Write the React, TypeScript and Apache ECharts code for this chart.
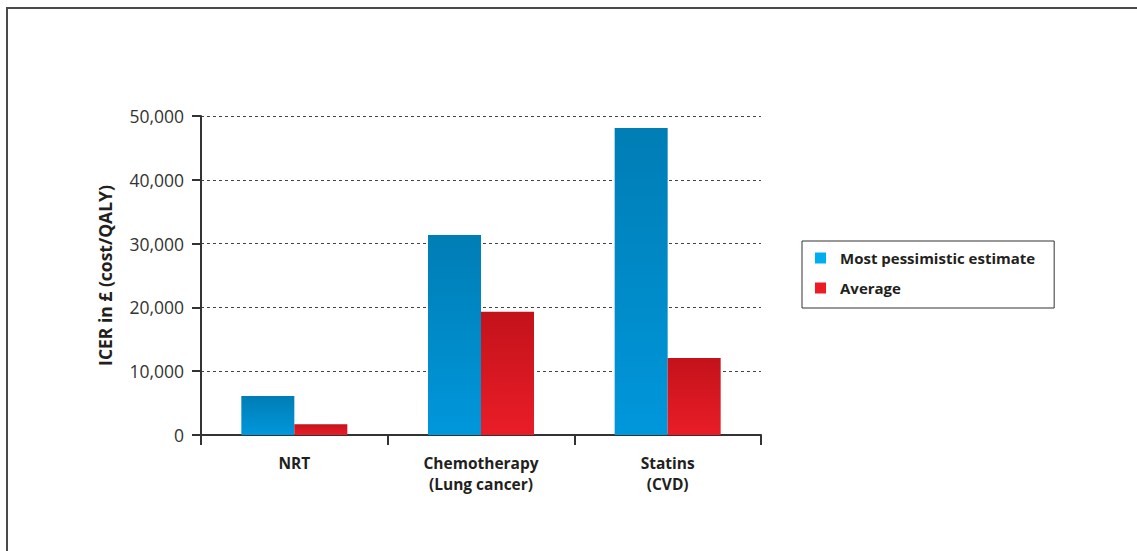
import React, { useEffect, useRef } from "react";
import * as echarts from "echarts";

const categories = ["NRT", "Chemotherapy\n(Lung cancer)", "Statins\n(CVD)"];
const pessimistic = [6100, 31350, 48100];
const average = [1700, 19300, 12050];
const seriesNames = ["Most pessimistic estimate", "Average"];
const yTicks = [0, 10000, 20000, 30000, 40000, 50000];

const FONT = "'Open Sans', 'Noto Sans', sans-serif";

export default function App() {
  const ref = useRef<HTMLDivElement>(null);
  useEffect(() => {
    if (!ref.current) return;
    const chart = echarts.init(ref.current, undefined, { renderer: "svg" });
    const blueGrad = new echarts.graphic.LinearGradient(0, 0, 0, 1, [
      { offset: 0, color: "#007DB5" },
      { offset: 1, color: "#0097DB" },
    ]);
    const redGrad = new echarts.graphic.LinearGradient(0, 0, 0, 1, [
      { offset: 0, color: "#C3121B" },
      { offset: 1, color: "#EA1D27" },
    ]);
    chart.setOption({
      animation: false,
      textStyle: { fontFamily: FONT },
      graphic: [
        {
          type: "rect",
          shape: { x: 7, y: 8, width: 1300, height: 700 },
          style: { fill: "none", stroke: "#4a4a4a", lineWidth: 2 },
          silent: true,
        },
      ],
      grid: { left: 201, right: 376, top: 116, bottom: 116, containLabel: false },
      legend: {
        left: 802,
        top: 241,
        orient: "vertical",
        icon: "rect",
        itemWidth: 11,
        itemHeight: 11,
        itemGap: 12,
        padding: [8, 19, 11, 13],
        borderColor: "#333",
        borderWidth: 1,
        data: [
          { name: seriesNames[0], itemStyle: { color: "#00AEEF" } },
          { name: seriesNames[1], itemStyle: { color: "#ED1C24" } },
        ],
        textStyle: {
          fontFamily: FONT,
          fontSize: 15,
          fontWeight: "bold",
          color: "#231F20",
          lineHeight: 18,
          padding: [0, 0, 0, 9],
        },
      },
      xAxis: {
        type: "category",
        data: categories,
        axisLine: { lineStyle: { color: "#333", width: 2 } },
        axisTick: { show: true, alignWithLabel: false, length: 10, lineStyle: { color: "#333", width: 2 } },
        axisLabel: {
          fontFamily: FONT,
          fontSize: 15.5,
          fontWeight: "bold",
          color: "#231F20",
          lineHeight: 21,
          margin: 17,
        },
      },
      yAxis: {
        type: "value",
        min: 0,
        max: 50000,
        interval: 10000,
        name: "ICER in £ (cost/QALY)",
        nameLocation: "middle",
        nameGap: 87,
        nameTextStyle: { fontFamily: FONT, fontSize: 17.5, fontWeight: "bold", color: "#231F20" },
        axisLine: { show: true, lineStyle: { color: "#333", width: 2 } },
        axisTick: { show: true, length: 9, lineStyle: { color: "#333", width: 2 } },
        axisLabel: {
          fontFamily: FONT,
          fontSize: 17.5,
          color: "#333",
          margin: 17,
          formatter: (v: number) => (yTicks.includes(v) ? v.toLocaleString("en-GB") : ""),
        },
        splitLine: { show: true, lineStyle: { color: "#444", type: [3, 3], width: 1 } },
      },
      series: [
        {
          name: seriesNames[0],
          type: "bar",
          data: pessimistic,
          barWidth: 53,
          barGap: "0%",
          itemStyle: { color: blueGrad },
        },
        {
          name: seriesNames[1],
          type: "bar",
          data: average,
          barWidth: 53,
          barGap: "0%",
          itemStyle: { color: redGrad },
        },
      ],
    });
    return () => chart.dispose();
  }, []);
  return (
    <div
      ref={ref}
      style={{ position: "absolute", left: 0, top: 0, width: 1137, height: 551, background: "#fff" }}
    />
  );
}
